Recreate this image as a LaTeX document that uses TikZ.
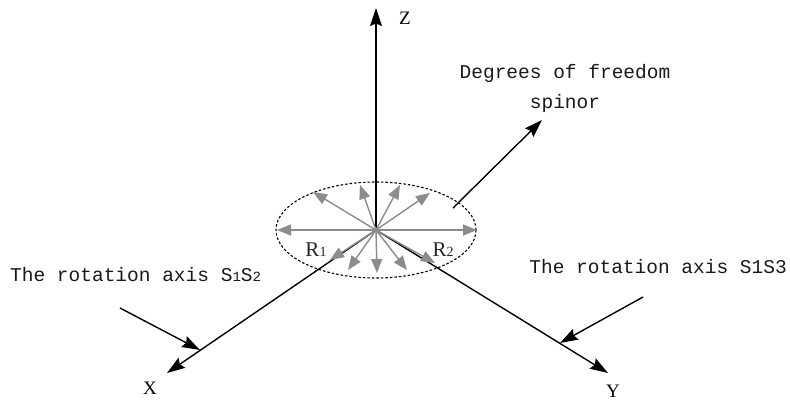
\documentclass[tikz,border=0pt]{standalone}
\usepackage{fontspec}
\setmainfont{Liberation Serif}
\newfontfamily\monofont{Liberation Mono}
\usetikzlibrary{arrows.meta}
\begin{document}
\begin{tikzpicture}[x=1pt,y=-1pt,
  axis/.style={line width=1.4pt, -{Stealth[length=18pt,width=12pt,inset=2.5pt]}},
  ray/.style={draw=gray!90, line width=1.4pt, -{Stealth[length=14pt,width=11pt,inset=0pt]}},
  lbl/.style={font=\monofont\fontsize{19.5}{30}\selectfont, inner sep=0pt, text=black!90},
  axlbl/.style={font=\fontsize{19}{20}\selectfont, inner sep=0pt},
  rlbl/.style={font=\fontsize{21}{21}\selectfont, inner sep=0pt, text=black!85}]
\useasboundingbox (0,0) rectangle (790,400);
\fill[white] (0,0) rectangle (790,400);
\coordinate (O) at (376,230);
% ellipse
\draw[dash pattern=on 2.5pt off 2pt, line width=1.1pt] (O) ellipse [x radius=100, y radius=48];
% axes
\coordinate (Ztip) at (376,8);
\coordinate (Xtip) at (167,373);
\coordinate (Ytip) at (608,373);
\draw[axis] (O) -- (Ztip);
\draw[axis] (O) -- (Xtip);
\draw[axis] (O) -- (Ytip);
\node[axlbl] (Z) at (405,18) {Z};
\node[axlbl] (X) at (150,388) {X};
\node[axlbl] (Y) at (613,391) {Y};
% gray rays
\coordinate (r1) at (277,230);
\coordinate (r2) at (477,230);
\coordinate (r3) at (313,192);
\coordinate (r4) at (360,185);
\coordinate (r5) at (400,185);
\coordinate (r6) at (430,193);
\coordinate (r7) at (330,260);
\coordinate (r8) at (348,270);
\coordinate (r9) at (377,273);
\coordinate (r10) at (407,270);
\coordinate (r11) at (435,263);
\foreach \r in {r1,r2,r3,r4,r5,r6,r7,r8,r9,r10,r11}
  \draw[ray] (O) -- (\r);
\node[rlbl] (R1) at (316,250) {R{\fontsize{14}{14}\selectfont 1}};
\node[rlbl] (R2) at (443,250) {R{\fontsize{14}{14}\selectfont 2}};
% spinor
\coordinate (Ds) at (453,208);
\coordinate (De) at (542,120);
\draw[axis] (Ds) -- (De);
\node[lbl, align=center] (D) at (565,88) {Degrees of freedom\\spinor};
% rotation axis S1S2
\node[lbl, anchor=west] (T1) at (10,275) {The rotation axis S{\fontsize{14}{14}\selectfont 1}S{\fontsize{14}{14}\selectfont 2}};
\coordinate (A1s) at (120,308);
\coordinate (A1e) at (200,350);
\draw[axis] (A1s) -- (A1e);
% rotation axis S1S3
\node[lbl, anchor=east] (T2) at (787,267) {The rotation axis S1S3};
\coordinate (A2s) at (643,297);
\coordinate (A2e) at (560,343);
\draw[axis] (A2s) -- (A2e);
\end{tikzpicture}
\end{document}
